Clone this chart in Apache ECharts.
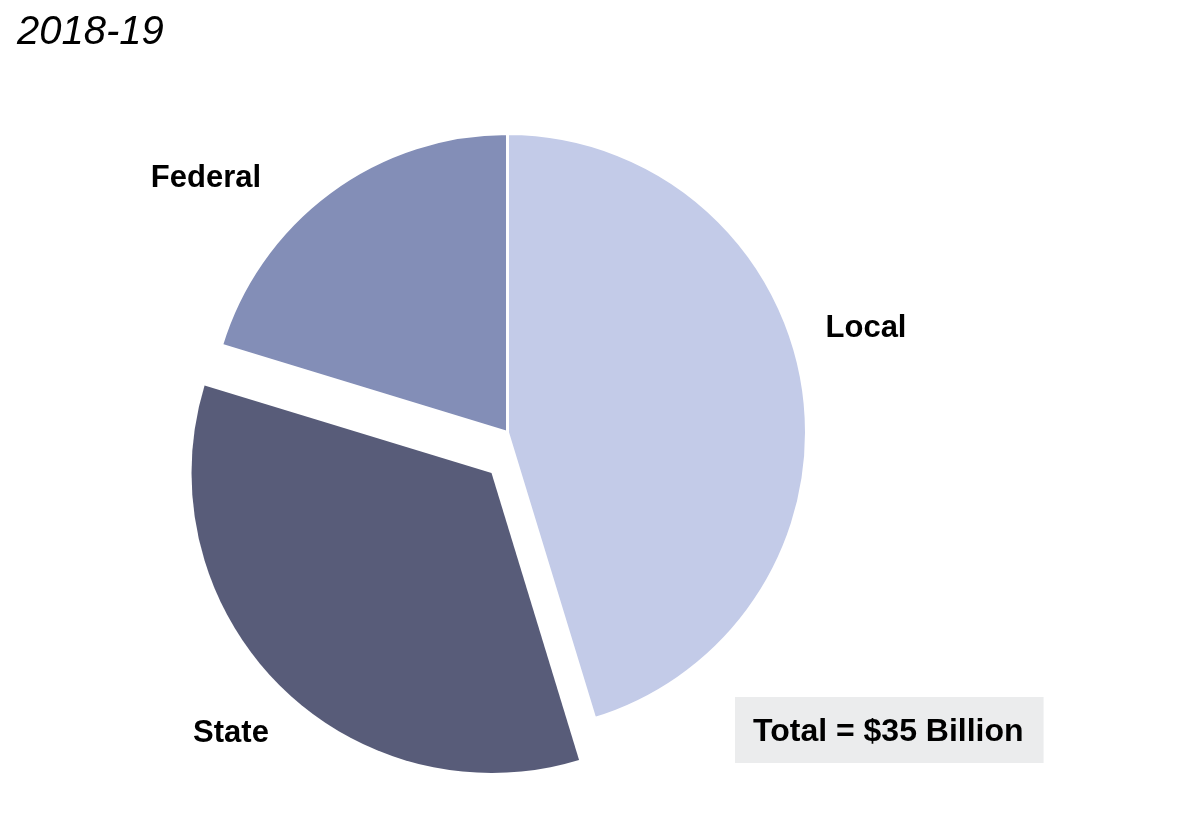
<!DOCTYPE html>
<html>
<head>
<meta charset="utf-8">
<script src="https://cdn.jsdelivr.net/npm/echarts@6/dist/echarts.min.js"></script>
<style>
  html, body { margin: 0; padding: 0; background: #fff; }
  #chart { width: 1179px; height: 819px; }
</style>
</head>
<body>
<div id="chart"></div>
<script>
// 2018-19 funding by source, billions of dollars
const categories = ["Local", "State", "Federal"];
const values = [15.85, 12.05, 7.1];
const colors = ["#c3cbe8", "#585c79", "#838eb7"];
const yearLabel = "2018-19";
const totalLabel = "Total = $35 Billion";

// where each category's label sits
const labelPos = {
  Local: [866, 328],
  State: [231, 733],
  Federal: [206, 178],
};

const font = "'Liberation Sans', Arial, Helvetica, sans-serif";
const chart = echarts.init(document.getElementById("chart"));

const pieData = (visibleName) =>
  categories.map((name, i) => {
    const on = visibleName ? name === visibleName : name !== "State";
    return {
      name: name,
      value: values[i],
      itemStyle: { color: on ? colors[i] : "rgba(0,0,0,0)", borderWidth: on ? 3 : 0 },
      label: { show: on },
    };
  });

const labelStyle = {
  formatter: "{b}",
  color: "#000",
  fontFamily: font,
  fontWeight: "bold",
  fontSize: 31,
};

const layoutFn = (params) => {
  const p = labelPos[categories[params.dataIndex]];
  return { x: p[0], y: p[1], align: "center", verticalAlign: "middle" };
};

const option = {
  backgroundColor: "#fff",
  animation: false,
  title: [
    {
      text: yearLabel,
      left: 17,
      top: 13,
      padding: 0,
      textStyle: { fontFamily: font, fontStyle: "italic", fontWeight: "normal", fontSize: 40, lineHeight: 40, color: "#000" },
    },
    {
      text: totalLabel,
      left: 735,
      top: 697,
      padding: [19, 20, 15, 18],
      backgroundColor: "#ebeced",
      textStyle: { fontFamily: font, fontWeight: "bold", fontSize: 32, lineHeight: 32, color: "#000" },
    },
  ],
  series: [
    {
      type: "pie",
      center: [507.5, 432.5],
      radius: 299,
      startAngle: 90,
      clockwise: true,
      silent: true,
      itemStyle: { borderColor: "#fff" },
      label: labelStyle,
      labelLine: { show: false },
      labelLayout: layoutFn,
      data: pieData(null),
    },
    {
      type: "pie",
      center: [491.5, 473],
      radius: 300,
      startAngle: 90,
      clockwise: true,
      silent: true,
      itemStyle: { borderColor: "#fff" },
      label: labelStyle,
      labelLine: { show: false },
      labelLayout: layoutFn,
      data: pieData("State").map((d) => ({ ...d, itemStyle: { ...d.itemStyle, borderWidth: 0 } })),
    },
  ],
};

chart.setOption(option);
</script>
</body>
</html>
